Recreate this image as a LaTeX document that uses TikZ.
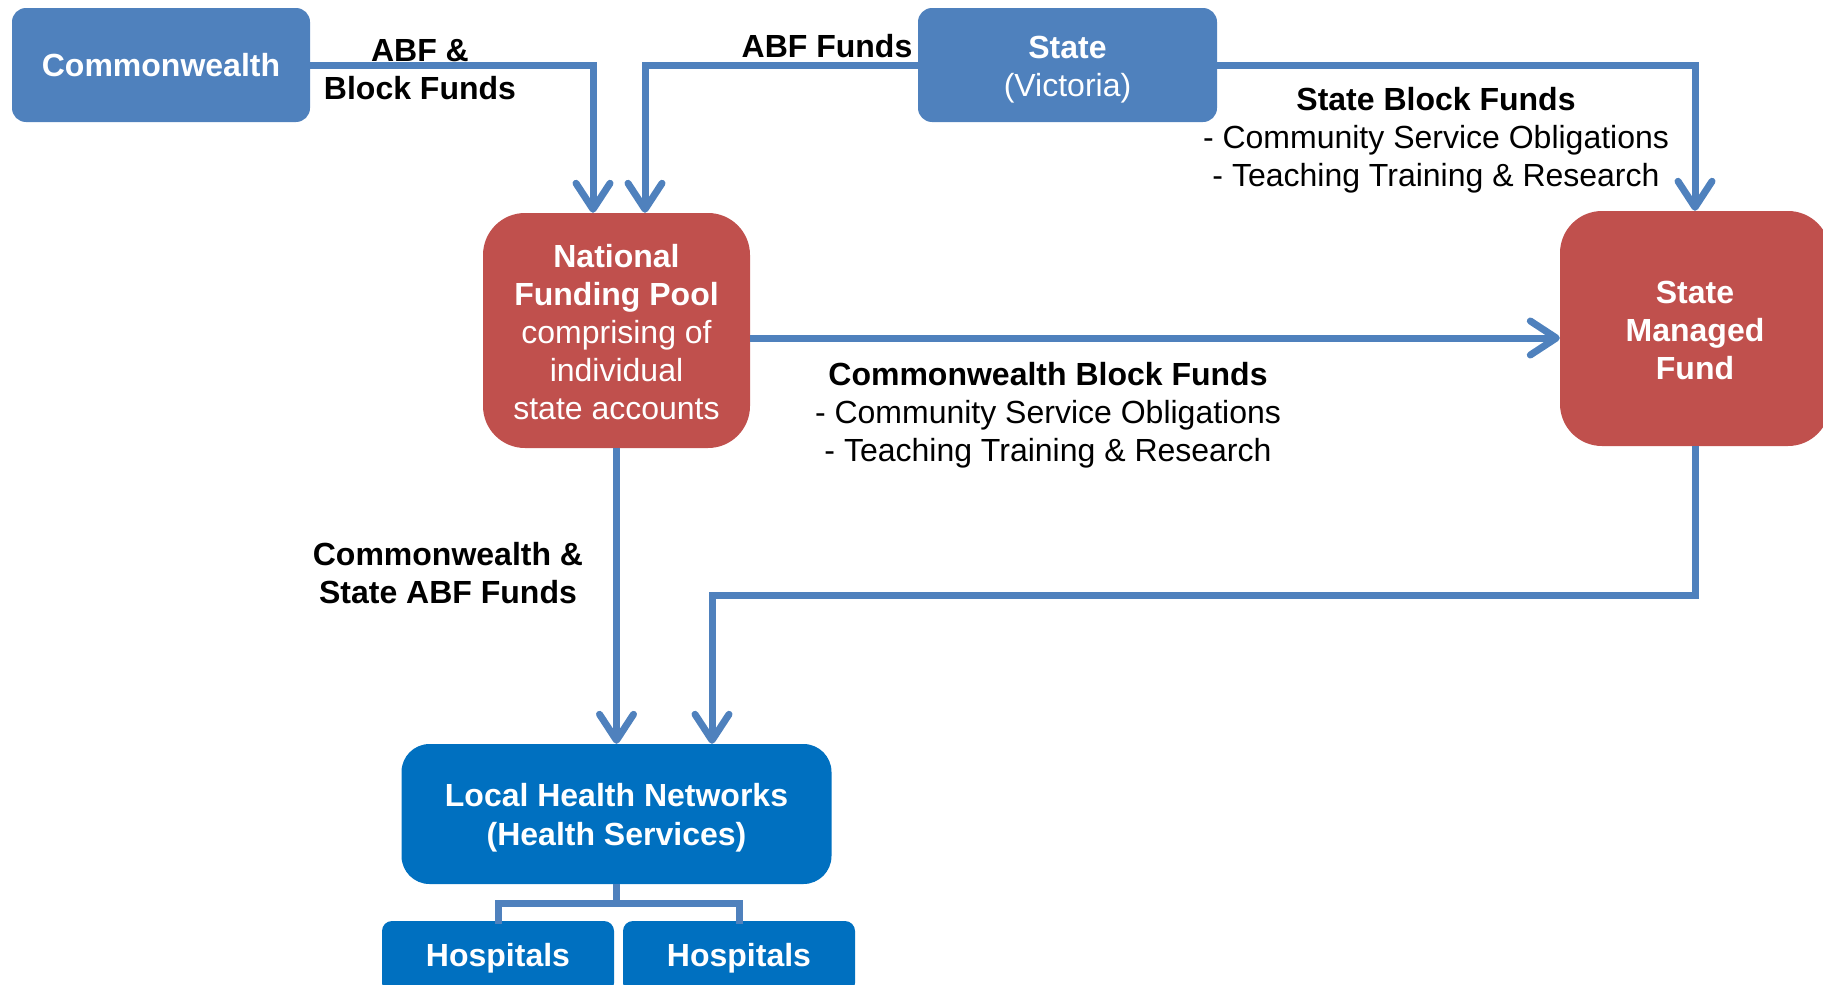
\documentclass[tikz,border=0pt]{standalone}
\usepackage{fontspec}
\setmainfont{Liberation Sans}
\usetikzlibrary{arrows.meta}
\definecolor{boxblue}{HTML}{4F81BD}
\definecolor{boxred}{HTML}{C0504D}
\definecolor{boxdeep}{HTML}{0070C0}
\definecolor{linkblue}{HTML}{4F81BD}
\tikzset{
  every node/.style={font=\fontsize{32}{38}\selectfont},
  fundbox/.style={fill=#1, text=white, align=center, inner sep=0pt, draw=none},
  boxtext/.style={text=white, align=center, inner sep=0pt},
  lbl/.style={align=center, inner sep=0pt, text=black, font=\fontsize{32}{38}\selectfont\bfseries},
  link/.style={draw=linkblue, line width=7pt},
  arr/.style={link, -{Straight Barb[length=26pt,width=34pt,round]}},
}
\begin{document}
\begin{tikzpicture}[x=1pt,y=-1pt]
\useasboundingbox (0,0) rectangle (1823,985);
% boxes
\node[fundbox=boxblue, rounded corners=14pt, minimum width=298pt, minimum height=114pt] (cw) at (161,65) {\bfseries Commonwealth};
\node[fundbox=boxblue, rounded corners=14pt, minimum width=299pt, minimum height=114pt] (st) at (1067.5,65) {};
\node[boxtext] (stt) at (1067.5,70) {\bfseries State\\(Victoria)};
\node[fundbox=boxred, rounded corners=42pt, minimum width=267pt, minimum height=235pt] (nfp) at (616.5,330.5) {};
\node[boxtext] (nfpt) at (616.5,332) {\bfseries National\\\bfseries Funding Pool\\comprising of\\individual\\state accounts};
\node[fundbox=boxred, rounded corners=42pt, minimum width=270pt, minimum height=235pt] (smf) at (1695,328.5) {};
\node[boxtext] (smft) at (1695,330) {\bfseries State\\\bfseries Managed\\\bfseries Fund};
\node[fundbox=boxdeep, rounded corners=28pt, minimum width=430pt, minimum height=140pt] (lhn) at (616.5,814) {};
\node[boxtext, font=\fontsize{32}{39}\selectfont] (lhnt) at (616.5,818) {\bfseries Local Health Networks\\\bfseries (Health Services)};
\node[fundbox=boxdeep, rounded corners=10pt, minimum width=232pt, minimum height=72pt] (h1) at (498,957) {};
\node[boxtext] (h1t) at (498,958) {\bfseries Hospitals};
\node[fundbox=boxdeep, rounded corners=10pt, minimum width=232pt, minimum height=72pt] (h2) at (739,957) {};
\node[boxtext] (h2t) at (739,958) {\bfseries Hospitals};
% labels
\node[lbl] (l1) at (420,69.5) {ABF \&\\Block Funds};
\node[lbl] (l2) at (827,46) {ABF Funds};
\node[lbl] (l3) at (1436,140.5) {State Block Funds\\\mdseries - Community Service Obligations\\\mdseries - Teaching Training \& Research};
\node[lbl] (l4) at (1048,415.5) {Commonwealth Block Funds\\\mdseries - Community Service Obligations\\\mdseries - Teaching Training \& Research};
\node[lbl] (l5) at (448,573) {Commonwealth \&\\State ABF Funds};
% connectors
\draw[arr] (cw.east) -| ([xshift=-23.5pt]nfp.north);
\draw[arr] (st.west) -| ([xshift=28.5pt]nfp.north);
\draw[arr] (st.east) -| (smf.north);
\coordinate (p1) at ([yshift=-7.5pt]nfp.east);
\draw[arr] (p1) -- (p1 -| smf.west);
\draw[arr] (nfp.south) -- (nfp.south |- lhn.north);
\coordinate (k) at (712,595);
\draw[arr] (smf.south) |- (k) -- (k |- lhn.north);
\coordinate (j) at (616.5,903);
\draw[link] (lhn.south) -- (j);
\draw[link] ([yshift=-3pt]h1.north) |- (j) -| ([yshift=-3pt]h2.north);
\end{tikzpicture}
\end{document}
